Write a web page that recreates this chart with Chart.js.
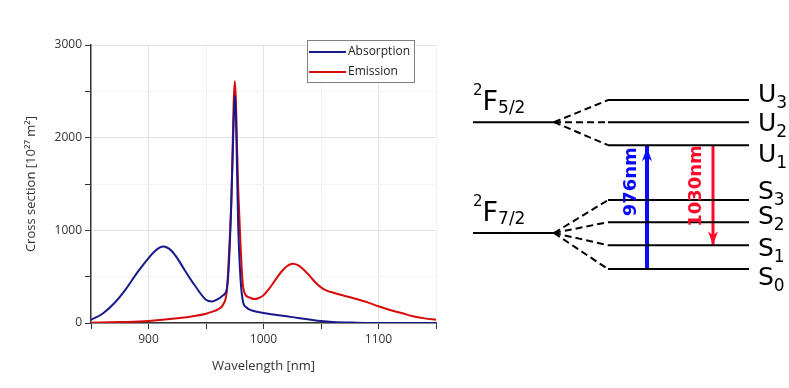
<!DOCTYPE html>
<html>
<head>
<meta charset="utf-8">
<script src="https://cdn.jsdelivr.net/npm/chart.js@4.4.1/dist/chart.umd.min.js"></script>
<style>
  html, body { margin: 0; padding: 0; background: #fff; }
  #wrap { position: relative; width: 789px; height: 388px; overflow: hidden; }
  #spec { position: absolute; left: 0; top: 0; }
  #levels { position: absolute; left: 460px; top: 0; }
</style>
</head>
<body>
<div id="wrap">
  <canvas id="spec" width="460" height="388"></canvas>
  <canvas id="levels" width="329" height="388"></canvas>
</div>
<script>
// absorption cross section [10^-27 m^2]
let absWl  = [850, 860, 870, 880, 890, 900, 905, 910, 913, 916, 920, 925, 930, 940, 950, 955, 960, 965, 968, 970, 972, 974, 975, 976, 977, 978, 980, 982, 985, 990, 1000, 1010, 1020, 1030, 1040, 1050, 1060, 1080, 1100, 1150];
let absVal = [35, 100, 210, 360, 540, 700, 770, 815, 825, 815, 780, 700, 600, 410, 250, 232, 255, 300, 360, 650, 1300, 2150, 2450, 2250, 1650, 1050, 480, 240, 170, 135, 108, 90, 72, 55, 38, 22, 12, 4, 1, 0];

// emission cross section
let emWl  = [850, 875, 900, 925, 940, 950, 955, 960, 965, 968, 969, 970, 971, 972, 973, 974, 975, 976, 977, 978, 979, 980, 981, 982, 984, 988, 992, 996, 1000, 1005, 1010, 1015, 1020, 1025, 1030, 1035, 1040, 1045, 1050, 1055, 1060, 1070, 1080, 1090, 1100, 1110, 1120, 1130, 1140, 1150];
let emVal = [2, 10, 22, 50, 75, 100, 120, 145, 200, 330, 500, 750, 1000, 1300, 1800, 2350, 2610, 2400, 1900, 1450, 1150, 850, 600, 420, 310, 275, 258, 270, 300, 370, 460, 545, 610, 640, 625, 575, 510, 440, 385, 350, 330, 295, 262, 225, 180, 140, 108, 72, 50, 35];

// tick labels
let xTicks = [900, 1000, 1100];
let yTicks = [0, 1000, 2000, 3000];

// energy level scheme (schematic units, S0 = 0)
let manifoldNames  = [['2', 'F', '5/2'], ['2', 'F', '7/2']];
let manifoldLevels = [6.39, 1.57];
let upperNames  = ['U1', 'U2', 'U3'];
let upperLevels = [5.39, 6.39, 7.35];
let lowerNames  = ['S0', 'S1', 'S2', 'S3'];
let lowerLevels = [0, 1.04, 2.04, 3.0];
let pumpLabel = '976nm';   // S0 -> U1
let laserLabel = '1030nm'; // U1 -> S1

let font = 'Open Sans';

// legend drawn inside the plot with a grey frame
const legendBox = {
  id: 'legendBox',
  afterDraw(chart) {
    const ctx = chart.ctx, a = chart.chartArea;
    const w = 107, h = 42, x = a.right - w - 22, y = a.top - 5;
    ctx.save();
    ctx.fillStyle = '#fff';
    ctx.fillRect(x, y, w, h);
    ctx.strokeStyle = '#808080';
    ctx.lineWidth = 1;
    ctx.strokeRect(x + 0.5, y + 0.5, w, h);
    chart.data.datasets.forEach((ds, i) => {
      const ly = y + 12 + i * 20;
      ctx.strokeStyle = ds.borderColor;
      ctx.lineWidth = 2;
      ctx.beginPath(); ctx.moveTo(x + 2, ly); ctx.lineTo(x + 39, ly); ctx.stroke();
      ctx.fillStyle = '#222';
      ctx.font = '12px "' + font + '"';
      ctx.textBaseline = 'middle';
      ctx.fillText(ds.label, x + 41, ly);
    });
    ctx.restore();
  }
};

function pts(xs, ys) { return xs.map((v, i) => ({ x: v, y: ys[i] })); }

let spectrum = new Chart(document.getElementById('spec'), {
  type: 'scatter',
  data: {
    datasets: [
      { label: 'Absorption', data: pts(absWl, absVal), showLine: true, borderColor: '#18198c', borderWidth: 2, pointRadius: 0, cubicInterpolationMode: 'monotone' },
      { label: 'Emission', data: pts(emWl, emVal), showLine: true, borderColor: '#d80a0a', borderWidth: 2, pointRadius: 0, cubicInterpolationMode: 'monotone' }
    ]
  },
  options: {
    responsive: false,
    animation: false,
    layout: { padding: { left: 0, right: 24, top: 45, bottom: 0 } },
    plugins: { legend: { display: false }, tooltip: { enabled: false } },
    scales: {
      x: {
        type: 'linear', min: 850, max: 1150,
        afterFit: s => { s.height = 65; },
        ticks: { stepSize: 50, autoSkip: false, maxRotation: 0, padding: 3, color: '#333',
                 font: { family: font, size: 12 },
                 callback: v => xTicks.includes(v) ? v : '' },
        grid: { color: c => (c.tick && xTicks.includes(c.tick.value)) ? '#e2e2e2' : '#f3f3f3',
                tickColor: '#333', tickLength: 6 },
        border: { color: '#333', width: 1.5 },
        title: { display: true, text: 'Wavelength [nm]', color: '#333', font: { family: font, size: 13 },
                 padding: { top: 0, bottom: 14 } }
      },
      y: {
        min: 0, max: 3000,
        afterFit: s => { s.width = 91; },
        ticks: { stepSize: 500, autoSkip: false, padding: 3, color: '#333',
                 font: { family: font, size: 12 },
                 callback: v => yTicks.includes(v) ? v : '' },
        grid: { color: c => (c.tick && yTicks.includes(c.tick.value)) ? '#e2e2e2' : '#f3f3f3',
                tickColor: '#333', tickLength: 6 },
        border: { color: '#333', width: 1.5 },
        title: { display: true, text: 'Cross section [10²⁷ m²]', color: '#333', font: { family: font, size: 13 },
                 padding: { top: 23, bottom: 0 } }
      }
    }
  },
  plugins: [legendBox]
});

// ---- level diagram ----
// horizontal columns of the scheme
let manifoldX = [13, 94];
let levelX = [148, 289];
let pumpX = 187;
let laserX = 253;
let labelX = 298;
// label baseline shifts so sublevel names do not collide
let upperLabelDy = [17, 9, 2];
let lowerLabelDy = [16, 11, 2, -1];

let levelSets = [];
function line(a, b, color, width, dash) {
  levelSets.push({ data: [a, b], showLine: true, borderColor: color, borderWidth: width,
                   borderDash: dash || [], pointRadius: 0, borderCapStyle: 'butt' });
}
[[upperLevels, 0], [lowerLevels, 1]].forEach(([lv, m]) => {
  const E = manifoldLevels[m];
  line({ x: manifoldX[0], y: E }, { x: manifoldX[1], y: E }, '#000', 2);
  lv.forEach(e => {
    line({ x: manifoldX[1], y: E }, { x: levelX[0], y: e }, '#000', 2, [7, 4]);
    line({ x: levelX[0], y: e }, { x: levelX[1], y: e }, '#000', 2);
  });
});
line({ x: pumpX, y: lowerLevels[0] }, { x: pumpX, y: upperLevels[0] }, '#0a0aff', 4);
line({ x: laserX, y: upperLevels[0] }, { x: laserX, y: lowerLevels[1] }, '#ff0a2a', 3);

const schemeText = {
  id: 'schemeText',
  afterDraw(chart) {
    const ctx = chart.ctx, xs = chart.scales.x, ys = chart.scales.y;
    const px = v => xs.getPixelForValue(v), py = v => ys.getPixelForValue(v);
    const df = 'DejaVu Sans';
    ctx.save();
    ctx.fillStyle = '#000';
    ctx.textBaseline = 'alphabetic';
    ctx.textAlign = 'left';
    // manifold names
    manifoldNames.forEach((n, i) => {
      const y = py(manifoldLevels[i]), x0 = px(manifoldX[0]);
      ctx.font = '15px "' + df + '"';
      ctx.fillText(n[0], x0, y - 27);
      const w0 = ctx.measureText(n[0]).width;
      ctx.font = '27px "' + df + '"';
      ctx.fillText(n[1], x0 + w0, y - 12);
      const w1 = ctx.measureText(n[1]).width;
      ctx.font = '17px "' + df + '"';
      ctx.fillText(n[2], x0 + w0 + w1, y - 9);
    });
    // sublevel names
    const sub = (name, e, dy) => {
      const y = py(e) + dy, x0 = px(labelX);
      ctx.font = '25px "' + df + '"';
      ctx.fillText(name[0], x0, y);
      const w = ctx.measureText(name[0]).width;
      ctx.font = '17px "' + df + '"';
      ctx.fillText(name.slice(1), x0 + w, y + 6);
    };
    upperNames.forEach((n, i) => sub(n, upperLevels[i], upperLabelDy[i]));
    lowerNames.forEach((n, i) => sub(n, lowerLevels[i], lowerLabelDy[i]));
    // arrow heads
    const head = (x, tipY, dir, color) => {
      ctx.fillStyle = color;
      ctx.beginPath();
      ctx.moveTo(x, tipY);
      ctx.lineTo(x + 5, tipY + dir * 14);
      ctx.lineTo(x, tipY + dir * 10);
      ctx.lineTo(x - 5, tipY + dir * 14);
      ctx.closePath();
      ctx.fill();
    };
    head(px(pumpX), py(upperLevels[0]) + 2, 1, '#0a0aff');
    head(px(laserX), py(lowerLevels[1]), -1, '#ff0a2a');
    // transition labels, reading upwards
    const vlabel = (txt, x, topY, color) => {
      ctx.save();
      ctx.translate(x, topY);
      ctx.rotate(-Math.PI / 2);
      ctx.font = 'bold 18px "' + df + '"';
      ctx.fillStyle = color;
      ctx.textAlign = 'right';
      ctx.textBaseline = 'middle';
      ctx.fillText(txt, 0, 0);
      ctx.restore();
    };
    vlabel(pumpLabel, px(pumpX) - 16, py(upperLevels[0]) + 2, '#0a0aff');
    vlabel(laserLabel, px(laserX) - 17, py(upperLevels[0]), '#ff0a2a');
    ctx.restore();
  }
};

let scheme = new Chart(document.getElementById('levels'), {
  type: 'scatter',
  data: { datasets: levelSets },
  options: {
    responsive: false,
    animation: false,
    layout: { padding: 0 },
    plugins: { legend: { display: false }, tooltip: { enabled: false } },
    scales: {
      x: { display: false, min: 0, max: 329 },
      y: { display: false, min: -5.17, max: 11.7 }
    }
  },
  plugins: [schemeText]
});
</script>
</body>
</html>
